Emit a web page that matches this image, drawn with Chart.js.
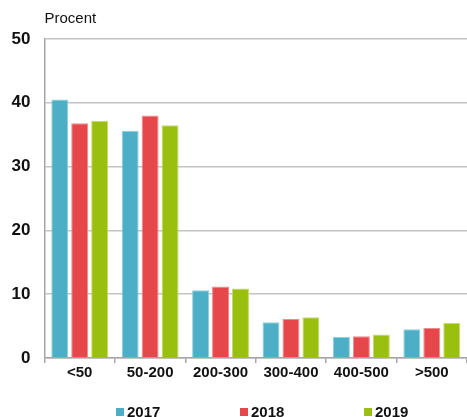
<!DOCTYPE html>
<html>
<head>
<meta charset="utf-8">
<script src="https://cdn.jsdelivr.net/npm/chart.js@4/dist/chart.umd.min.js"></script>
<style>
  html, body { margin: 0; padding: 0; background: #fff; }
  #wrap { width: 467px; height: 417px; }
</style>
</head>
<body>
<div id="wrap"><canvas id="chartFarms"></canvas></div>
<script>
// Fördelning per storleksklass, procent
const klasser = ['<50', '50-200', '200-300', '300-400', '400-500', '>500'];
const ar = ['2017', '2018', '2019'];
const varden2017 = [40.5, 35.6, 10.6, 5.6, 3.3, 4.5];
const varden2018 = [36.8, 38.0, 11.2, 6.1, 3.4, 4.7];
const varden2019 = [37.2, 36.5, 10.9, 6.4, 3.7, 5.5];
const yTicks = [0, 10, 20, 30, 40, 50];

const FARGER = ['#4CAFC5', '#E6474A', '#9BBF0E'];
const KANTER = ['#8CCFDD', '#F08A8C', '#C2DC6A'];
const FONT = 'Arial, "Liberation Sans", sans-serif';

// rubriken "Procent" ovanför y-axeln + egen legend längst ner
const extraText = {
  id: 'extraText',
  afterDraw(chart) {
    const { ctx, chartArea } = chart;
    ctx.save();
    ctx.font = '15px ' + FONT;
    ctx.fillStyle = '#111';
    ctx.textBaseline = 'middle';
    ctx.textAlign = 'left';
    ctx.fillText('Procent', chartArea.left, 19);

    ctx.font = 'bold 15px ' + FONT;
    chart.data.datasets.forEach((ds, i) => {
      const x = chartArea.left + 71.5 + i * 124;
      const y = 412.5;
      ctx.fillStyle = ds.backgroundColor;
      ctx.fillRect(x, y - 4.5, 8, 8);
      ctx.fillStyle = '#111';
      ctx.fillText(ds.label, x + 11, y);
    });
    ctx.restore();
  }
};

const serier = [varden2017, varden2018, varden2019];

new Chart(document.getElementById('chartFarms'), {
  type: 'bar',
  data: {
    labels: klasser,
    datasets: serier.map((d, i) => ({
      label: ar[i],
      data: d,
      backgroundColor: FARGER[i],
      borderColor: KANTER[i],
      borderWidth: { top: 1, left: 1, right: 1, bottom: 0 },
      categoryPercentage: 0.85,
      barPercentage: 0.85,
    })),
  },
  options: {
    responsive: true,
    maintainAspectRatio: false,
    animation: false,
    layout: { padding: { top: 39, right: 0, left: 0, bottom: 0 } },
    plugins: {
      legend: { display: false },
      tooltip: { enabled: false },
    },
    scales: {
      x: {
        afterFit: s => { s.height = 59; },
        grid: { display: true, drawOnChartArea: false, offset: true, color: '#A6A6A6', lineWidth: 1.5, tickLength: 5 },
        border: { color: '#A6A6A6', width: 1.5 },
        ticks: {
          color: '#111',
          padding: 1,
          font: { family: FONT, size: 15, weight: 'bold' },
        },
      },
      y: {
        min: 0,
        max: 50,
        afterFit: s => { s.width = 44.5; },
        afterBuildTicks: s => { s.ticks = yTicks.map(v => ({ value: v })); },
        grid: { color: '#C4C4C4', lineWidth: 1.5, drawTicks: false },
        border: { color: '#A6A6A6', width: 1.5 },
        ticks: {
          color: '#111',
          padding: 14,
          font: { family: FONT, size: 17, weight: 'bold' },
        },
      },
    },
  },
  plugins: [extraText],
});
</script>
</body>
</html>
